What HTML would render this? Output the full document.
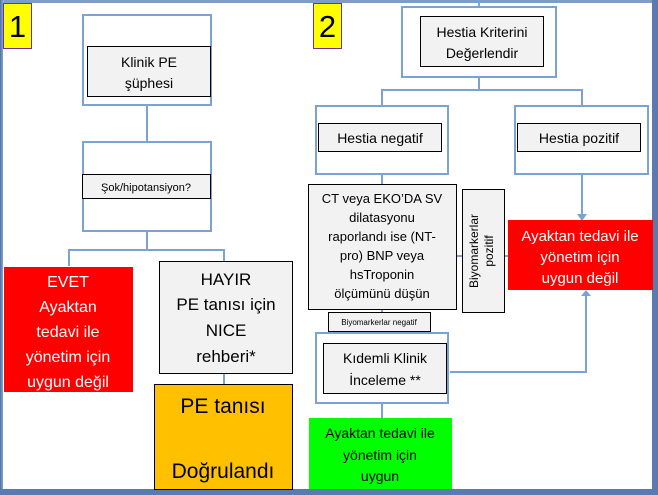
<!DOCTYPE html>
<html><head><meta charset="utf-8"><style>
html,body{margin:0;padding:0;background:#fff}
svg{display:block}
text{font-family:"Liberation Sans","DejaVu Sans",sans-serif}
</style></head><body>
<svg width="658" height="495" viewBox="0 0 658 495" xmlns="http://www.w3.org/2000/svg">
<defs>
<linearGradient id="lg" x1="0" x2="1"><stop offset="0" stop-color="#4a6fa8"/><stop offset="1" stop-color="#9fb6d8"/></linearGradient>
</defs>
<!-- frame -->
<rect x="0" y="0" width="658" height="495" fill="#7f9cc8"/>
<rect x="0" y="0" width="4" height="495" fill="url(#lg)"/>
<rect x="3" y="3" width="650" height="487" fill="#fff"/>
<rect x="652" y="0" width="6" height="495" fill="#5a7ab0"/>
<rect x="0" y="489" width="658" height="6" fill="#5a7ab0"/>

<g fill="none" stroke="#7aa2d4" stroke-width="2">
<!-- left connectors -->
<line x1="147" y1="105" x2="147" y2="142"/>
<line x1="147" y1="231" x2="147" y2="250"/>
<polyline points="69,266 69,250 224,250 224,262"/>
<line x1="224" y1="373" x2="224" y2="384"/>
<!-- right connectors -->
<line x1="479" y1="0" x2="479" y2="7"/>
<line x1="479" y1="77" x2="479" y2="90"/>
<polyline points="382,106 382,90 582,90 582,106"/>
<line x1="382" y1="174" x2="382" y2="184"/>
<line x1="582" y1="174" x2="582" y2="216"/>
<line x1="456" y1="256" x2="462" y2="256"/>
<line x1="504" y1="256" x2="508" y2="256"/>
<polyline points="450,372 586,372 586,296"/>
<line x1="382" y1="403" x2="382" y2="418"/>
<line x1="382" y1="309" x2="382" y2="333"/>
<!-- outer boxes -->
<rect x="83" y="15" width="128" height="90"/>
<rect x="83" y="142" width="128" height="89"/>
<rect x="402" y="7" width="154" height="70"/>
<rect x="316" y="106" width="132" height="68"/>
<rect x="515" y="106" width="133" height="68"/>
<rect x="316" y="333" width="132" height="70"/>
</g>
<polygon points="577,214 587,214 582,221" fill="#7aa2d4"/>
<polygon points="581,296 591,296 586,290" fill="#7aa2d4"/>

<!-- inner gray boxes -->
<g fill="#f2f2f2" stroke="#000" stroke-width="1">
<rect x="87.5" y="46.5" width="123" height="50"/>
<rect x="82.5" y="174.5" width="128" height="24"/>
<rect x="159.5" y="261.5" width="133" height="112"/>
<rect x="420.5" y="16.5" width="123" height="50"/>
<rect x="318.5" y="123.5" width="123" height="28"/>
<rect x="517.5" y="123.5" width="123" height="28"/>
<rect x="308.5" y="184.5" width="148" height="125"/>
<rect x="462.5" y="189.5" width="42" height="123"/>
<rect x="328.5" y="312.5" width="102" height="19"/>
<rect x="323.5" y="343.5" width="123" height="50"/>
</g>

<!-- badges -->
<rect x="3.5" y="3.5" width="28" height="45" fill="#ffff00" stroke="#7030a0"/>
<rect x="313.5" y="3.5" width="28" height="45" fill="#ffff00" stroke="#7030a0"/>
<text x="17.5" y="37" font-size="31" text-anchor="middle">1</text>
<text x="327.5" y="37" font-size="31" text-anchor="middle">2</text>

<!-- colored boxes -->
<rect x="4" y="267" width="129" height="125" fill="#ff0000"/>
<rect x="154.5" y="384.5" width="138" height="105" fill="#ffc000" stroke="#000"/>
<rect x="508" y="220" width="145" height="70" fill="#ff0000"/>
<rect x="309" y="418" width="143" height="71" fill="#00ff00"/>

<g text-anchor="middle" fill="#000">
<text x="149" y="67" font-size="14">Klinik PE</text>
<text x="149" y="88" font-size="14">şüphesi</text>
<text x="146" y="191" font-size="11">Şok/hipotansiyon?</text>
<g font-size="17">
<text x="226" y="285">HAYIR</text>
<text x="226" y="310">PE tanısı için</text>
<text x="226" y="336">NICE</text>
<text x="226" y="362">rehberi*</text>
</g>
<text x="223" y="413" font-size="21">PE tanısı</text>
<text x="223" y="478" font-size="21">Doğrulandı</text>
<text x="482" y="37" font-size="14">Hestia Kriterini</text>
<text x="482" y="58" font-size="14">Değerlendir</text>
<text x="380" y="143" font-size="14">Hestia negatif</text>
<text x="579" y="143" font-size="14">Hestia pozitif</text>
<g font-size="13">
<text x="382" y="203">CT veya EKO’DA  SV</text>
<text x="382" y="222">dilatasyonu</text>
<text x="382" y="241">raporlandı ise (NT-</text>
<text x="382" y="260">pro) BNP veya</text>
<text x="382" y="279">hsTroponin</text>
<text x="382" y="298">ölçümünü düşün</text>
</g>
<g transform="translate(483,251) rotate(-90)" font-size="12">
<text x="0" y="-5">Biyomarkerlar</text>
<text x="0" y="10">pozitif</text>
</g>
<text x="379" y="325" font-size="8">Biyomarkerlar negatif</text>
<text x="385" y="363" font-size="14">Kıdemli Klinik</text>
<text x="385" y="385" font-size="14">İnceleme **</text>
<g font-size="14">
<text x="380" y="438">Ayaktan tedavi ile</text>
<text x="380" y="460">yönetim için</text>
<text x="380" y="481">uygun</text>
</g>
</g>
<g text-anchor="middle" fill="#fff">
<g font-size="16">
<text x="68" y="287">EVET</text>
<text x="68" y="312">Ayaktan</text>
<text x="68" y="337">tedavi ile</text>
<text x="68" y="362">yönetim için</text>
<text x="68" y="387">uygun değil</text>
</g>
<g font-size="15">
<text x="580" y="241">Ayaktan tedavi ile</text>
<text x="580" y="262">yönetim için</text>
<text x="580" y="283">uygun değil</text>
</g>
</g>
</svg>
</body></html>
